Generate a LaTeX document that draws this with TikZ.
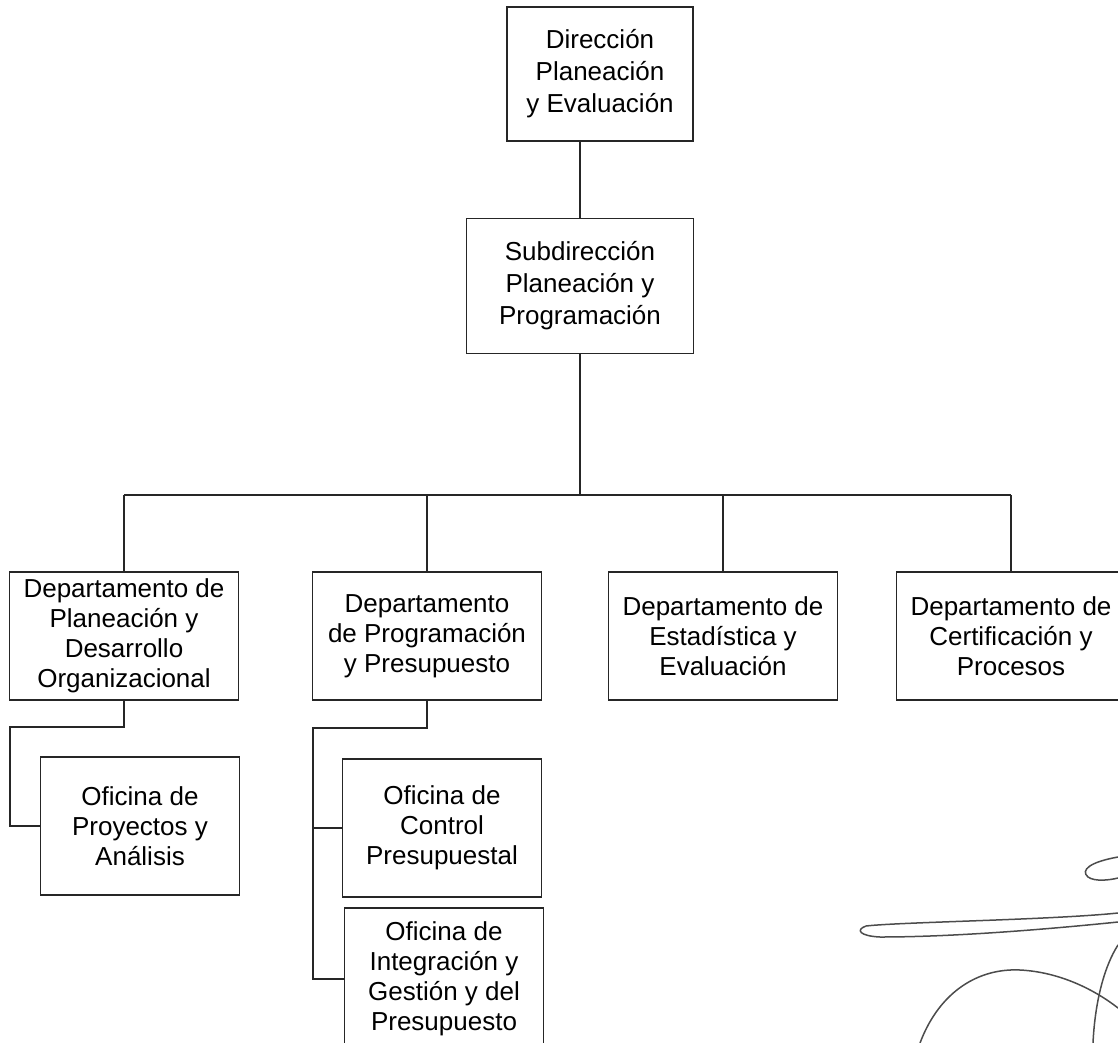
\documentclass[tikz,border=0pt]{standalone}
\usepackage{fontspec}
\setmainfont{Liberation Sans}
\usetikzlibrary{positioning}

\begin{document}
\begin{tikzpicture}[
    x=1pt, y=-1pt,
    unit/.style={rectangle, draw=black!85, line width=1.8pt, text centered, align=center, inner sep=0pt, font=\fontsize{26}{30}\selectfont},
    head/.style={unit, font=\fontsize{26}{32}\selectfont},
    dept/.style={unit, minimum width=229pt, minimum height=128pt},
    office/.style={unit, minimum width=199pt, minimum height=138pt},
    link/.style={line width=1.8pt, draw=black!85},
    sign/.style={line width=1.5pt, draw=black!70, line cap=round}
]
\clip (0,0) rectangle (1118,1043);

% Direction
\node (direccion) [head, minimum width=186pt, minimum height=134pt] at (600,74) {Dirección\\Planeación\\y Evaluación};
\node (subdireccion) [head, minimum width=227pt, minimum height=135pt] at (580,286) {Subdirección\\Planeación y\\Programación};

% Departments
\node (planeacion) [dept] at (124,636) {Departamento de\\Planeación y\\Desarrollo\\Organizacional};
\node (programacion) [dept] at (427,636) {Departamento\\de Programación\\y Presupuesto};
\node (estadistica) [dept] at (723,636) {Departamento de\\Estadística y\\Evaluación};
\node (certificacion) [dept] at (1011,636) {Departamento de\\Certificación y\\Procesos};

% Offices
\node (proyectos) [office] at (140,826) {Oficina de\\Proyectos y\\Análisis};
\node (control) [office] at (442,828) {Oficina de\\Control\\Presupuestal};
\node (integracion) [office, minimum height=142pt] at (444,979) {Oficina de\\Integración y\\Gestión y del\\Presupuesto};

% Connectors
\coordinate (bus) at (580,495);
\draw [link] (subdireccion.north) -- (subdireccion.north |- direccion.south);
\draw [link] (subdireccion.south) -- (bus);
\draw [link] (planeacion.north |- bus) -- (certificacion.north |- bus);
\foreach \dep in {planeacion, programacion, estadistica, certificacion} {
    \draw [link] (\dep.north) -- (\dep.north |- bus);
}

\coordinate (elbow1) at (10,727);
\draw [link] (planeacion.south) |- (elbow1) |- (proyectos.west);

\coordinate (elbow2) at (313,728);
\draw [link] (programacion.south) |- (elbow2) |- (integracion.west);
\draw [link] (elbow2 |- control.west) -- (control.west);

% Signature
\draw [sign] (1118,857) .. controls (1090,862) and (1080,870) .. (1088,877) .. controls (1095,882) and (1110,880) .. (1118,878);
\draw [sign] (1118,913) .. controls (1050,920) and (900,922) .. (866,926) .. controls (855,930) and (860,936) .. (880,937) .. controls (950,937) and (1040,930) .. (1118,922);
\draw [sign] (920,1043) .. controls (940,990) and (980,968) .. (1020,970) .. controls (1060,972) and (1095,990) .. (1118,1008);
\draw [sign] (1093,1043) .. controls (1095,1000) and (1105,965) .. (1118,945);

\end{tikzpicture}
\end{document}
